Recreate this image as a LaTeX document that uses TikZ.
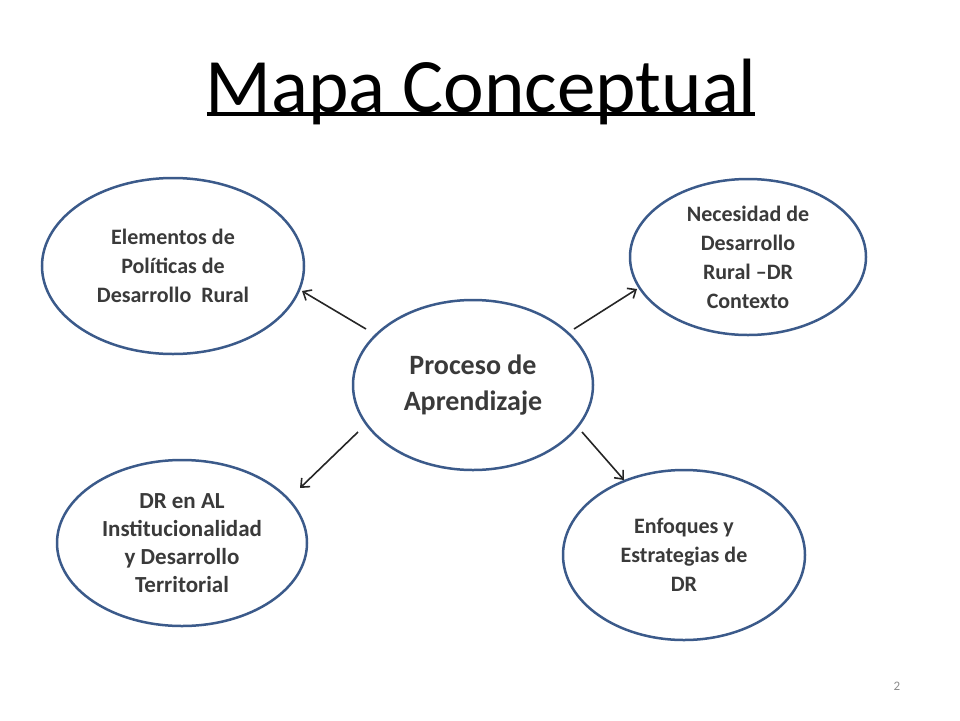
\documentclass[tikz,border=0pt]{standalone}
\usepackage{fontspec}
\setmainfont{Carlito}
\usetikzlibrary{shapes.geometric,arrows.meta}
\definecolor{edge}{HTML}{3B5A8A}
\definecolor{txt}{HTML}{3A3A3A}
\begin{document}
\begin{tikzpicture}[x=1pt,y=-1pt,
  bub/.style={ellipse,draw=edge,line width=2.5pt,fill=white,inner sep=0pt,text=txt,font=\bfseries\fontsize{22}{29}\selectfont,align=center},
  conn/.style={-{Straight Barb[length=7pt,width=12pt]},line width=1.6pt,draw=black!85}]
\useasboundingbox (0,0) rectangle (960,720);
\node[font=\fontsize{77}{80}\selectfont,text=black] (title) at (481,92) {Mapa Conceptual};
\draw[line width=4pt] (title.south west)++(5,-14) -- ([xshift=-5pt,yshift=14pt]title.south east);
\node[bub,minimum width=240pt,minimum height=170pt,font=\bfseries\fontsize{28}{36}\selectfont] (c) at (473,385) {Proceso de\\Aprendizaje};
\node[bub,minimum width=262pt,minimum height=176pt] (tl) at (173,266) {Elementos de\\Políticas de\\Desarrollo~ Rural};
\node[bub,minimum width=236pt,minimum height=156pt] (tr) at (748,257) {Necesidad de\\Desarrollo\\Rural –DR\\Contexto};
\node[bub,minimum width=250pt,minimum height=166pt,font=\bfseries\fontsize{23}{28}\selectfont] (bl) at (182,543) {DR en AL\\Institucionalidad\\y Desarrollo\\Territorial};
\node[bub,minimum width=242pt,minimum height=170pt] (br) at (684,555) {Enfoques y\\Estrategias de\\DR};
\node[text=black!45,font=\fontsize{13}{14}\selectfont] (pg) at (897,686) {2};
\coordinate (a1) at (366,329); \coordinate (a2) at (302,291);
\coordinate (b1) at (574,329); \coordinate (b2) at (637,289);
\coordinate (c1) at (358,432); \coordinate (c2) at (300,488);
\coordinate (d1) at (582,432); \coordinate (d2) at (624,480);
\draw[conn] (a1) -- (a2);
\draw[conn] (b1) -- (b2);
\draw[conn] (c1) -- (c2);
\draw[conn] (d1) -- (d2);
\end{tikzpicture}
\end{document}
